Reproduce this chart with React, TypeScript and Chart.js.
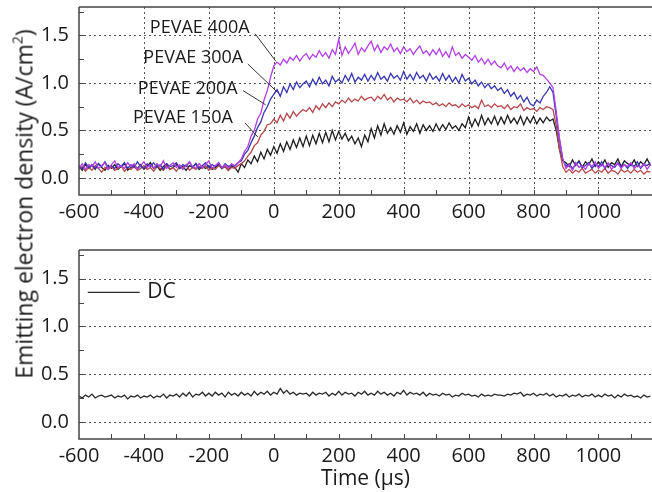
import React, { useEffect, useRef } from "react";
import { Chart, registerables } from "chart.js";

Chart.register(...registerables);

const FONT = '"Open Sans", "Noto Sans", sans-serif';

// time axis (µs), one value every 10 µs, rows of 100 µs
const TIMES = [
  -600, -590, -580, -570, -560, -550, -540, -530, -520, -510,
  -500, -490, -480, -470, -460, -450, -440, -430, -420, -410,
  -400, -390, -380, -370, -360, -350, -340, -330, -320, -310,
  -300, -290, -280, -270, -260, -250, -240, -230, -220, -210,
  -200, -190, -180, -170, -160, -150, -140, -130, -120, -110,
  -100, -90, -80, -70, -60, -50, -40, -30, -20, -10,
  0, 10, 20, 30, 40, 50, 60, 70, 80, 90,
  100, 110, 120, 130, 140, 150, 160, 170, 180, 190,
  200, 210, 220, 230, 240, 250, 260, 270, 280, 290,
  300, 310, 320, 330, 340, 350, 360, 370, 380, 390,
  400, 410, 420, 430, 440, 450, 460, 470, 480, 490,
  500, 510, 520, 530, 540, 550, 560, 570, 580, 590,
  600, 610, 620, 630, 640, 650, 660, 670, 680, 690,
  700, 710, 720, 730, 740, 750, 760, 770, 780, 790,
  800, 810, 820, 830, 840, 850, 860, 870, 880, 890,
  900, 910, 920, 930, 940, 950, 960, 970, 980, 990,
  1000, 1010, 1020, 1030, 1040, 1050, 1060, 1070, 1080, 1090,
  1100, 1110, 1120, 1130, 1140, 1150, 1160,
];

const PEVAE_400A = [
  0.10, 0.15, 0.09, 0.14, 0.12, 0.17, 0.10, 0.13, 0.16, 0.09,
  0.14, 0.18, 0.11, 0.13, 0.10, 0.16, 0.12, 0.15, 0.09, 0.13,
  0.17, 0.11, 0.14, 0.10, 0.15, 0.12, 0.18, 0.10, 0.13, 0.16,
  0.11, 0.14, 0.09, 0.13, 0.17, 0.12, 0.10, 0.15, 0.11, 0.14,
  0.18, 0.10, 0.13, 0.16, 0.11, 0.14, 0.10, 0.15, 0.12, 0.16,
  0.20, 0.28, 0.33, 0.44, 0.50, 0.62, 0.68, 0.82, 0.92, 1.06,
  1.18, 1.22, 1.19, 1.25, 1.21, 1.27, 1.24, 1.29, 1.23, 1.28,
  1.31, 1.25, 1.30, 1.27, 1.34, 1.28, 1.32, 1.26, 1.35, 1.30,
  1.46, 1.29, 1.38, 1.31, 1.36, 1.42, 1.30, 1.37, 1.33, 1.39,
  1.44, 1.34, 1.40, 1.32, 1.38, 1.35, 1.41, 1.33, 1.37, 1.31,
  1.38, 1.33, 1.36, 1.30, 1.35, 1.39, 1.31, 1.34, 1.29, 1.35,
  1.30, 1.36, 1.28, 1.33, 1.27, 1.38, 1.29, 1.32, 1.26, 1.30,
  1.27, 1.24, 1.29, 1.22, 1.26, 1.20, 1.25, 1.19, 1.23, 1.18,
  1.16, 1.21, 1.14, 1.18, 1.12, 1.17, 1.13, 1.16, 1.11, 1.15,
  1.12, 1.17, 1.09, 1.08, 1.04, 1.00, 0.95, 0.70, 0.42, 0.20,
  0.10, 0.14, 0.08, 0.16, 0.11, 0.13, 0.09, 0.15, 0.12, 0.17,
  0.10, 0.14, 0.11, 0.16, 0.09, 0.13, 0.15, 0.10, 0.14, 0.12,
  0.16, 0.10, 0.13, 0.11, 0.15, 0.09, 0.14,
];

const PEVAE_300A = [
  0.13, 0.09, 0.16, 0.11, 0.14, 0.10, 0.15, 0.12, 0.17, 0.11,
  0.13, 0.10, 0.15, 0.12, 0.16, 0.10, 0.14, 0.11, 0.17, 0.12,
  0.10, 0.15, 0.12, 0.16, 0.11, 0.14, 0.09, 0.15, 0.12, 0.13,
  0.16, 0.10, 0.14, 0.12, 0.17, 0.11, 0.15, 0.10, 0.13, 0.16,
  0.11, 0.14, 0.12, 0.16, 0.10, 0.15, 0.12, 0.14, 0.13, 0.16,
  0.18, 0.25, 0.29, 0.37, 0.44, 0.53, 0.59, 0.69, 0.75, 0.83,
  0.88, 0.93, 0.86, 0.96, 0.90, 0.99, 0.93, 1.01, 0.95, 0.99,
  1.02, 0.96, 1.04, 0.98, 1.06, 0.99, 1.03, 0.97, 1.07, 1.01,
  1.04, 1.00, 1.08, 1.02, 1.10, 1.01, 1.06, 1.03, 1.09, 1.02,
  1.08, 1.03, 1.11, 1.04, 1.07, 1.02, 1.10, 1.05, 1.08, 1.03,
  1.12, 1.04, 1.09, 1.03, 1.11, 1.05, 1.08, 1.02, 1.10, 1.04,
  1.07, 1.02, 1.10, 1.03, 1.08, 1.01, 1.06, 1.00, 1.09, 1.02,
  1.05, 0.99, 1.03, 0.97, 1.01, 0.95, 0.99, 0.94, 0.97, 0.92,
  0.95, 0.89, 0.93, 0.86, 0.90, 0.83, 0.87, 0.80, 0.85, 0.78,
  0.76, 0.82, 0.79, 0.86, 0.90, 0.96, 0.90, 0.65, 0.40, 0.20,
  0.12, 0.15, 0.10, 0.14, 0.17, 0.11, 0.13, 0.16, 0.10, 0.14,
  0.12, 0.17, 0.10, 0.15, 0.13, 0.11, 0.16, 0.12, 0.14, 0.10,
  0.15, 0.12, 0.17, 0.10, 0.14, 0.13, 0.16,
];

const PEVAE_200A = [
  0.09, 0.12, 0.07, 0.11, 0.08, 0.13, 0.10, 0.06, 0.11, 0.09,
  0.12, 0.08, 0.10, 0.13, 0.07, 0.11, 0.09, 0.12, 0.08, 0.10,
  0.13, 0.09, 0.11, 0.07, 0.12, 0.10, 0.08, 0.13, 0.09, 0.11,
  0.07, 0.12, 0.10, 0.14, 0.08, 0.11, 0.09, 0.12, 0.10, 0.13,
  0.08, 0.11, 0.09, 0.13, 0.10, 0.12, 0.08, 0.11, 0.10, 0.13,
  0.15, 0.18, 0.23, 0.27, 0.34, 0.37, 0.45, 0.49, 0.56, 0.57,
  0.62, 0.58, 0.66, 0.60, 0.68, 0.63, 0.70, 0.65, 0.69, 0.72,
  0.70, 0.74, 0.69, 0.76, 0.72, 0.78, 0.74, 0.79, 0.75, 0.80,
  0.78, 0.82, 0.79, 0.84, 0.80, 0.83, 0.81, 0.86, 0.82, 0.84,
  0.85, 0.81, 0.86, 0.83, 0.88, 0.82, 0.85, 0.80, 0.84, 0.82,
  0.83, 0.80, 0.84, 0.79, 0.82, 0.78, 0.81, 0.79, 0.80, 0.77,
  0.79, 0.76, 0.78, 0.75, 0.79, 0.76, 0.77, 0.74, 0.78, 0.75,
  0.77, 0.74, 0.76, 0.73, 0.82, 0.75, 0.77, 0.74, 0.78, 0.75,
  0.76, 0.73, 0.77, 0.72, 0.75, 0.74, 0.78, 0.71, 0.74, 0.72,
  0.73, 0.70, 0.74, 0.72, 0.75, 0.74, 0.72, 0.55, 0.30, 0.12,
  0.06, 0.09, 0.05, 0.08, 0.06, 0.10, 0.05, 0.07, 0.09, 0.05,
  0.08, 0.06, 0.10, 0.05, 0.08, 0.07, 0.04, 0.09, 0.06, 0.08,
  0.05, 0.09, 0.06, 0.08, 0.04, 0.07, 0.06,
];

const PEVAE_150A = [
  0.12, 0.08, 0.14, 0.10, 0.13, 0.09, 0.15, 0.11, 0.08, 0.13,
  0.10, 0.14, 0.09, 0.12, 0.15, 0.08, 0.11, 0.13, 0.10, 0.14,
  0.09, 0.12, 0.16, 0.10, 0.13, 0.08, 0.12, 0.15, 0.09, 0.11,
  0.14, 0.10, 0.12, 0.08, 0.13, 0.11, 0.15, 0.09, 0.12, 0.10,
  0.13, 0.09, 0.11, 0.14, 0.10, 0.12, 0.08, 0.13, 0.11, 0.06,
  0.15, 0.11, 0.19, 0.15, 0.23, 0.17, 0.27, 0.20, 0.30, 0.24,
  0.33, 0.26, 0.36, 0.28, 0.38, 0.30, 0.40, 0.32, 0.42, 0.33,
  0.44, 0.34, 0.45, 0.36, 0.47, 0.37, 0.48, 0.38, 0.50, 0.40,
  0.49, 0.41, 0.47, 0.39, 0.44, 0.36, 0.42, 0.33, 0.45, 0.38,
  0.52, 0.42, 0.55, 0.45, 0.57, 0.47, 0.53, 0.46, 0.55, 0.48,
  0.58, 0.46, 0.54, 0.49, 0.57, 0.47, 0.56, 0.50, 0.55, 0.49,
  0.57, 0.50, 0.56, 0.51, 0.58, 0.52, 0.55, 0.50, 0.57, 0.53,
  0.64, 0.54, 0.62, 0.55, 0.66, 0.56, 0.63, 0.57, 0.65, 0.56,
  0.64, 0.57, 0.66, 0.58, 0.63, 0.57, 0.65, 0.56, 0.64, 0.58,
  0.65, 0.57, 0.63, 0.58, 0.64, 0.60, 0.62, 0.50, 0.30, 0.18,
  0.16, 0.12, 0.19, 0.13, 0.18, 0.11, 0.17, 0.14, 0.20, 0.12,
  0.17, 0.13, 0.19, 0.11, 0.16, 0.14, 0.20, 0.12, 0.18, 0.15,
  0.13, 0.19, 0.12, 0.17, 0.14, 0.20, 0.13,
];

const DC = [
  0.27, 0.25, 0.28, 0.26, 0.29, 0.25, 0.27, 0.28, 0.26, 0.27,
  0.28, 0.25, 0.27, 0.26, 0.28, 0.24, 0.27, 0.26, 0.28, 0.25,
  0.27, 0.26, 0.28, 0.25, 0.27, 0.26, 0.29, 0.25, 0.28, 0.27,
  0.29, 0.26, 0.30, 0.27, 0.31, 0.26, 0.29, 0.28, 0.31, 0.27,
  0.30, 0.27, 0.31, 0.28, 0.30, 0.26, 0.31, 0.28, 0.30, 0.27,
  0.31, 0.28, 0.30, 0.27, 0.32, 0.28, 0.31, 0.29, 0.32, 0.28,
  0.31, 0.29, 0.35, 0.30, 0.33, 0.29, 0.31, 0.28, 0.30, 0.29,
  0.30, 0.27, 0.31, 0.28, 0.30, 0.29, 0.31, 0.27, 0.30, 0.28,
  0.32, 0.28, 0.31, 0.29, 0.30, 0.27, 0.31, 0.29, 0.32, 0.28,
  0.30, 0.28, 0.32, 0.29, 0.31, 0.28, 0.30, 0.27, 0.31, 0.29,
  0.33, 0.28, 0.31, 0.29, 0.30, 0.28, 0.31, 0.27, 0.30, 0.28,
  0.29, 0.27, 0.30, 0.28, 0.29, 0.26, 0.28, 0.27, 0.30, 0.28,
  0.29, 0.27, 0.28, 0.26, 0.29, 0.27, 0.28, 0.27, 0.29, 0.28,
  0.28, 0.27, 0.29, 0.28, 0.30, 0.29, 0.31, 0.27, 0.29, 0.28,
  0.30, 0.27, 0.29, 0.28, 0.30, 0.27, 0.29, 0.26, 0.28, 0.27,
  0.29, 0.26, 0.28, 0.27, 0.29, 0.26, 0.28, 0.27, 0.29, 0.26,
  0.28, 0.26, 0.29, 0.27, 0.28, 0.25, 0.28, 0.26, 0.29, 0.27,
  0.28, 0.26, 0.27, 0.25, 0.28, 0.26, 0.27,
];

const TOP_LABELS = ["PEVAE 400A", "PEVAE 300A", "PEVAE 200A", "PEVAE 150A"];
const TOP_SERIES = [PEVAE_400A, PEVAE_300A, PEVAE_200A, PEVAE_150A];
const TOP_COLORS = ["#b23fe6", "#3636b2", "#b5484a", "#1e1e1e"];
const BOTTOM_LABEL = "DC";
const BOTTOM_COLOR = "#2a2a2a";

const X_TICKS = [-600, -400, -200, 0, 200, 400, 600, 800, 1000];
const X_MINOR = [-500, -300, -100, 100, 300, 500, 700, 900, 1100];
const Y_TICKS = [0, 0.5, 1.0, 1.5];
const Y_MINOR = [0.25, 0.75, 1.25, 1.75];
const X_MIN = -600;
const X_MAX = 1165;
const Y_MIN = -0.18;
const Y_MAX = 1.8;

// annotation anchors in data units: [x, y]
const LABEL_ANCHORS = [
  [-228, 1.58],
  [-248, 1.265],
  [-265, 0.94],
  [-280, 0.636],
];
// leader lines in data units: [x1, y1, x2, y2]
const LEADERS = [
  [-58, 1.52, 6, 1.23],
  [-80, 1.2, 12, 0.9],
  [-95, 0.92, -25, 0.77],
  [-89, 0.58, -49, 0.43],
];
// DC legend in data units: line x1, x2, y ; text x
const DC_LEGEND = [-573, -413, 1.356, -390];

function makeFramePlugin(kind: "top" | "bottom") {
  return {
    id: "frame_" + kind,
    beforeDatasetsDraw(chart: any) {
      const { ctx, chartArea, scales } = chart;
      const { left, right, top, bottom } = chartArea;
      const x = scales.x;
      const y = scales.y;
      ctx.save();
      ctx.strokeStyle = "#555";
      ctx.lineWidth = 1;
      ctx.setLineDash([2, 3]);
      for (const v of Y_TICKS) {
        const py = Math.round(y.getPixelForValue(v)) + 0.5;
        ctx.beginPath();
        ctx.moveTo(left, py);
        ctx.lineTo(right, py);
        ctx.stroke();
      }
      if (kind === "top") {
        for (const v of X_TICKS) {
          if (v <= X_MIN) continue;
          const px = Math.round(x.getPixelForValue(v)) + 0.5;
          ctx.beginPath();
          ctx.moveTo(px, top);
          ctx.lineTo(px, bottom);
          ctx.stroke();
        }
      }
      ctx.restore();
    },
    afterDatasetsDraw(chart: any) {
      const { ctx, chartArea, scales } = chart;
      const { left, right, top, bottom } = chartArea;
      const x = scales.x;
      const y = scales.y;
      ctx.save();
      ctx.setLineDash([]);
      ctx.strokeStyle = "#444";
      ctx.lineWidth = 1.5;
      ctx.beginPath();
      ctx.moveTo(left, top);
      ctx.lineTo(right, top);
      ctx.moveTo(left, top);
      ctx.lineTo(left, bottom);
      ctx.lineTo(right, bottom);
      ctx.stroke();
      ctx.lineWidth = 1;
      ctx.beginPath();
      for (const v of [...Y_TICKS, ...Y_MINOR]) {
        const py = Math.round(y.getPixelForValue(v)) + 0.5;
        ctx.moveTo(left, py);
        ctx.lineTo(left + 5, py);
      }
      for (const v of [...X_TICKS, ...X_MINOR]) {
        if (v <= X_MIN || v >= X_MAX) continue;
        const px = Math.round(x.getPixelForValue(v)) + 0.5;
        ctx.moveTo(px, bottom);
        ctx.lineTo(px, bottom - 5);
      }
      ctx.stroke();

      ctx.fillStyle = "#1a1a1a";
      ctx.strokeStyle = "#333";
      ctx.lineWidth = 1;
      if (kind === "top") {
        ctx.font = `18px ${FONT}`;
        ctx.textAlign = "center";
        ctx.textBaseline = "middle";
        TOP_LABELS.forEach((lab, i) => {
          const [ax, ay] = LABEL_ANCHORS[i];
          ctx.fillText(lab, x.getPixelForValue(ax), y.getPixelForValue(ay));
          const [x1, y1, x2, y2] = LEADERS[i];
          ctx.beginPath();
          ctx.moveTo(x.getPixelForValue(x1), y.getPixelForValue(y1));
          ctx.lineTo(x.getPixelForValue(x2), y.getPixelForValue(y2));
          ctx.stroke();
        });
      } else {
        const [lx1, lx2, ly, tx] = DC_LEGEND;
        const py = y.getPixelForValue(ly);
        ctx.strokeStyle = BOTTOM_COLOR;
        ctx.lineWidth = 1.3;
        ctx.beginPath();
        ctx.moveTo(x.getPixelForValue(lx1), py);
        ctx.lineTo(x.getPixelForValue(lx2), py);
        ctx.stroke();
        ctx.font = `21px ${FONT}`;
        ctx.textAlign = "left";
        ctx.textBaseline = "middle";
        ctx.fillText(BOTTOM_LABEL, x.getPixelForValue(tx), py);
      }
      ctx.restore();
    },
  };
}

function scalesFor(xHeight: number, withTitle: boolean) {
  return {
    x: {
      type: "linear",
      min: X_MIN,
      max: X_MAX,
      afterBuildTicks: (s: any) => {
        s.ticks = X_TICKS.map((v) => ({ value: v }));
      },
      afterFit: (s: any) => {
        s.height = xHeight;
        s.paddingLeft = 0;
        s.paddingRight = 0;
      },
      grid: { display: false, drawTicks: false },
      border: { display: false },
      ticks: {
        font: { size: 20, family: FONT },
        color: "#1a1a1a",
        padding: 5,
        maxRotation: 0,
        autoSkip: false,
        callback: (v: any) => String(v),
      },
      title: {
        display: withTitle,
        text: "Time (µs)",
        font: { size: 21, family: FONT },
        color: "#1a1a1a",
        padding: { top: 0, bottom: 0 },
      },
    },
    y: {
      type: "linear",
      min: Y_MIN,
      max: Y_MAX,
      afterBuildTicks: (s: any) => {
        s.ticks = Y_TICKS.map((v) => ({ value: v }));
      },
      afterFit: (s: any) => {
        s.width = 79;
        s.paddingTop = 0;
        s.paddingBottom = 0;
      },
      grid: { display: false, drawTicks: false },
      border: { display: false },
      ticks: {
        font: { size: 20, family: FONT },
        color: "#1a1a1a",
        padding: 10,
        autoSkip: false,
        callback: (v: any) => Number(v).toFixed(1),
      },
    },
  };
}

function toPoints(values: number[]) {
  return TIMES.map((t, i) => ({ x: t, y: values[i] }));
}

export default function App() {
  const topRef = useRef<HTMLCanvasElement | null>(null);
  const botRef = useRef<HTMLCanvasElement | null>(null);

  useEffect(() => {
    Chart.defaults.font.family = FONT;
    const top = new Chart(topRef.current as HTMLCanvasElement, {
      type: "line",
      data: {
        datasets: TOP_SERIES.map((s, i) => ({
          label: TOP_LABELS[i],
          data: toPoints(s),
          borderColor: TOP_COLORS[i],
          borderWidth: 1.3,
          pointRadius: 0,
          tension: 0,
          fill: false,
        })),
      },
      options: {
        animation: false,
        responsive: false,
        layout: { padding: { top: 7, left: 0, right: 0, bottom: 0 } },
        plugins: { legend: { display: false }, tooltip: { enabled: false } },
        scales: scalesFor(35, false) as any,
      },
      plugins: [makeFramePlugin("top")],
    } as any);

    const bot = new Chart(botRef.current as HTMLCanvasElement, {
      type: "line",
      data: {
        datasets: [
          {
            label: BOTTOM_LABEL,
            data: toPoints(DC),
            borderColor: BOTTOM_COLOR,
            borderWidth: 1.3,
            pointRadius: 0,
            tension: 0,
            fill: false,
          },
        ],
      },
      options: {
        animation: false,
        responsive: false,
        layout: { padding: { top: 10, left: 0, right: 0, bottom: 0 } },
        plugins: { legend: { display: false }, tooltip: { enabled: false } },
        scales: scalesFor(53, true) as any,
      },
      plugins: [makeFramePlugin("bottom")],
    } as any);

    return () => {
      top.destroy();
      bot.destroy();
    };
  }, []);

  return (
    <div
      style={{
        position: "fixed",
        left: 0,
        top: 0,
        width: 652,
        height: 492,
        overflow: "hidden",
        background: "#fff",
        fontFamily: FONT,
      }}
    >
      <canvas
        ref={topRef}
        width={652}
        height={230}
        style={{ position: "absolute", left: 0, top: 0, width: 652, height: 230 }}
      />
      <canvas
        ref={botRef}
        width={652}
        height={252}
        style={{ position: "absolute", left: 0, top: 240, width: 652, height: 252 }}
      />
      <div
        style={{
          position: "absolute",
          left: 23,
          top: 204,
          transform: "translate(-50%, -50%) rotate(-90deg)",
          whiteSpace: "nowrap",
          fontSize: 23,
          lineHeight: 1,
          color: "#1a1a1a",
        }}
      >
        Emitting electron density (A/cm<sup style={{ fontSize: 14, verticalAlign: 10 }}>2</sup>)
      </div>
    </div>
  );
}
